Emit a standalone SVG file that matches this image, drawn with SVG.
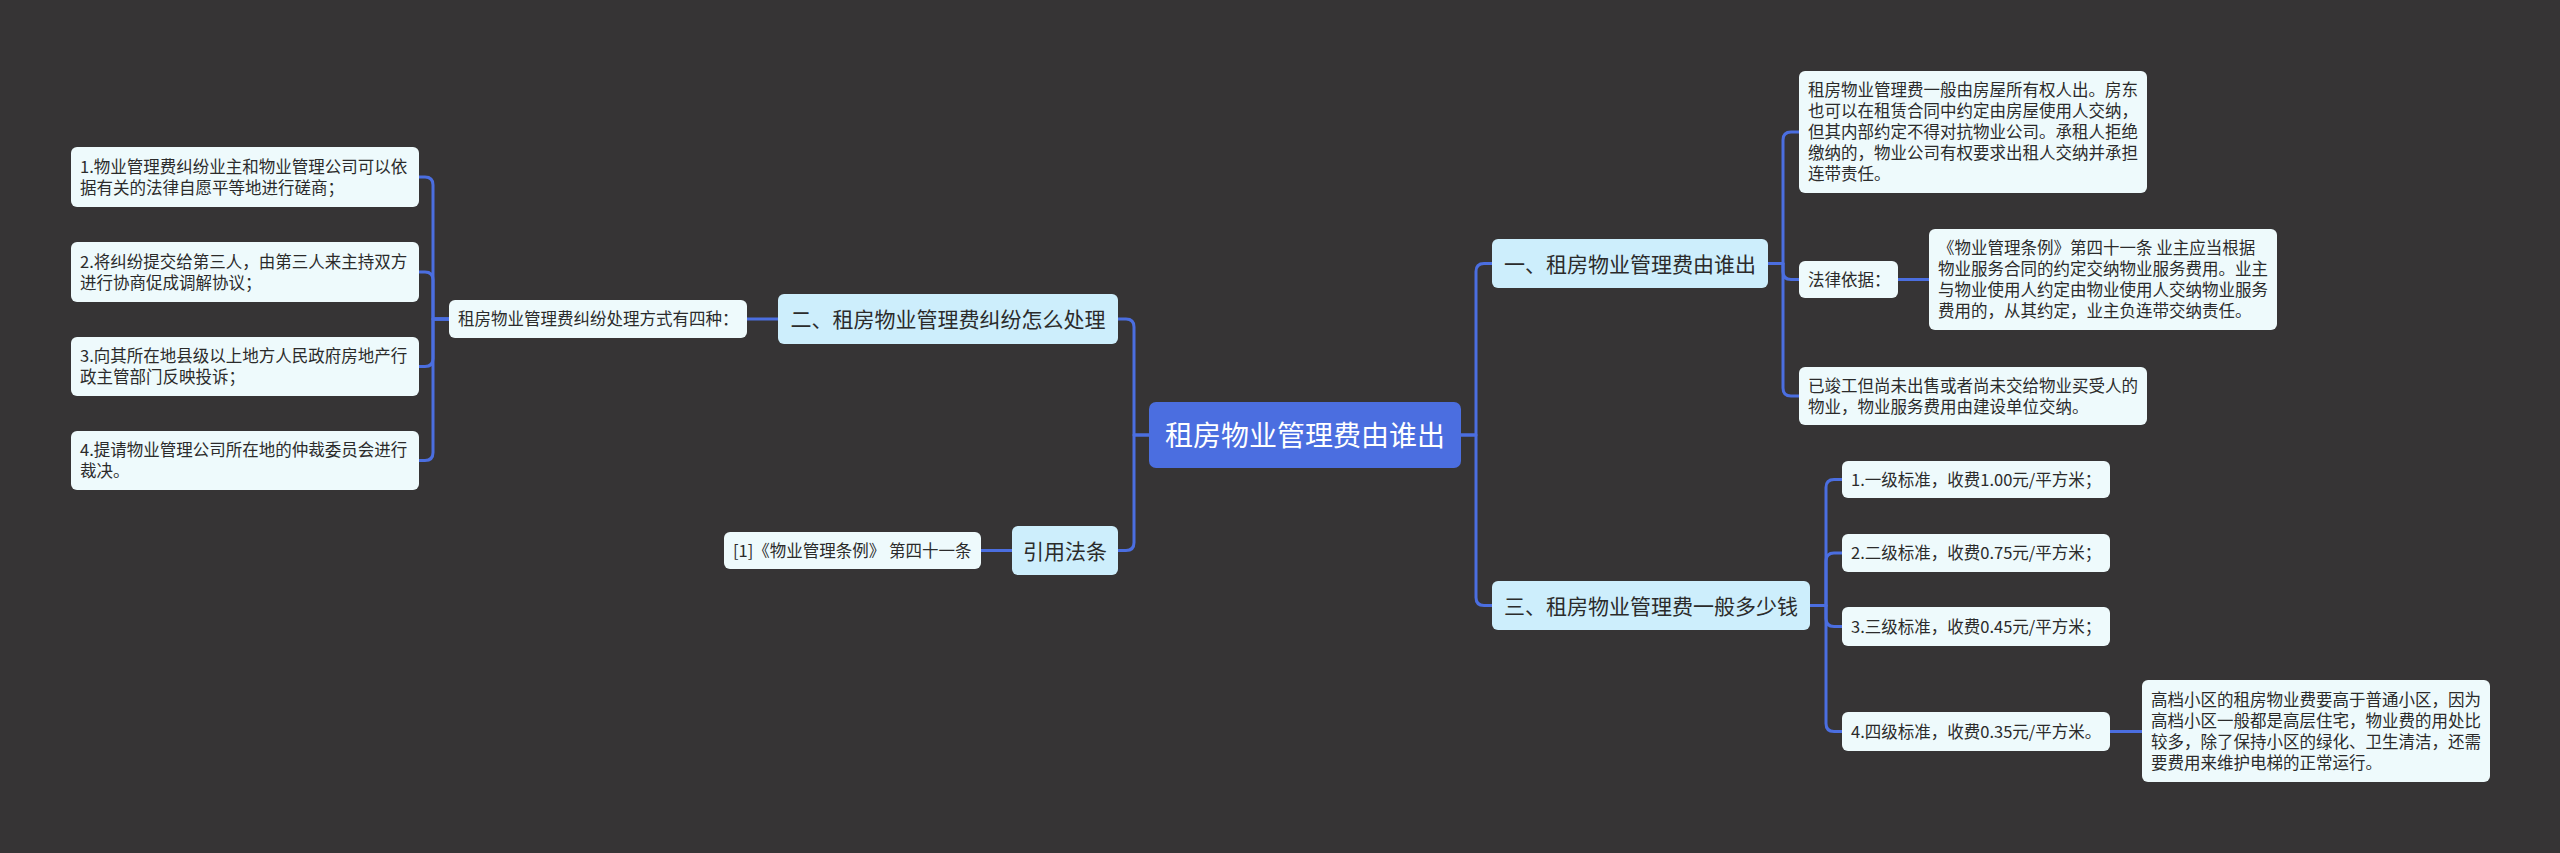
<svg xmlns="http://www.w3.org/2000/svg" width="2560" height="853" viewBox="0 0 2560 853">
<style>
.bg{fill:#363435}
.root rect{fill:#4b6ee0}
.root text{fill:#ffffff;font-size:28px}
.l1 rect{fill:#cdeefc}
.l1 text{fill:#2b2b2b;font-size:21px}
.leaf rect{fill:#eefafc}
.leaf text{fill:#2b2b2b;font-size:16.5px}
text{font-family:"Microsoft YaHei","Noto Sans CJK SC","Noto Sans",sans-serif}
.conn path{fill:none;stroke:#4b6ee0;stroke-width:3;stroke-linejoin:round}
</style>
<rect class="bg" x="0" y="0" width="2560" height="853"/>
<g class="conn" id="connectors">
<path d="M1461,435 H1476 V271.5 Q1476,263.5 1484,263.5 H1492"/>
<path d="M1461,435 H1476 V597.5 Q1476,605.5 1484,605.5 H1492"/>
<path d="M1149,435 H1134 V327 Q1134,319 1126,319 H1118"/>
<path d="M1149,435 H1134 V542.5 Q1134,550.5 1126,550.5 H1118"/>
<path d="M1768,263.5 H1783 V140 Q1783,132 1791,132 H1799"/>
<path d="M1768,263.5 H1783 V271.5 Q1783,279.5 1791,279.5 H1799"/>
<path d="M1768,263.5 H1783 V388 Q1783,396 1791,396 H1799"/>
<path d="M1898,279.5 H1929"/>
<path d="M1810,605.5 H1826 V487.5 Q1826,479.5 1834,479.5 H1842"/>
<path d="M1810,605.5 H1826 V561 Q1826,553 1834,553 H1842"/>
<path d="M1810,605.5 H1826 V618.5 Q1826,626.5 1834,626.5 H1842"/>
<path d="M1810,605.5 H1826 V723.5 Q1826,731.5 1834,731.5 H1842"/>
<path d="M2110,731.5 H2142"/>
<path d="M778,319 H747"/>
<path d="M449,319 H433 V185 Q433,177 425,177 H419"/>
<path d="M449,319 H433 V280 Q433,272 425,272 H419"/>
<path d="M449,319 H433 V358.5 Q433,366.5 425,366.5 H419"/>
<path d="M449,319 H433 V452.5 Q433,460.5 425,460.5 H419"/>
<path d="M1012,550.5 H981"/>
</g>
<g class="root" id="root">
<rect x="1149" y="402" width="312" height="66" rx="7"/>
<text x="1305" y="445.5" text-anchor="middle">租房物业管理费由谁出</text>
</g>
<g class="l1" id="n1">
<rect x="1492" y="239" width="276" height="49" rx="6"/>
<text x="1630" y="271.5" text-anchor="middle">一、租房物业管理费由谁出</text>
</g>
<g class="l1" id="n3">
<rect x="1492" y="581" width="318" height="49" rx="6"/>
<text x="1651" y="613.5" text-anchor="middle">三、租房物业管理费一般多少钱</text>
</g>
<g class="l1" id="n2">
<rect x="778" y="294" width="340" height="50" rx="6"/>
<text x="948" y="327" text-anchor="middle">二、租房物业管理费纠纷怎么处理</text>
</g>
<g class="l1" id="n4">
<rect x="1012" y="526" width="106" height="49" rx="6"/>
<text x="1065" y="558.5" text-anchor="middle">引用法条</text>
</g>
<g class="leaf" id="n1a">
<rect x="1799" y="71" width="348" height="122" rx="6"/>
<text x="1808" y="96.3"><tspan x="1808">租房物业管理费一般由房屋所有权人出。房东</tspan><tspan x="1808" dy="21">也可以在租赁合同中约定由房屋使用人交纳，</tspan><tspan x="1808" dy="21">但其内部约定不得对抗物业公司。承租人拒绝</tspan><tspan x="1808" dy="21">缴纳的，物业公司有权要求出租人交纳并承担</tspan><tspan x="1808" dy="21">连带责任。</tspan></text>
</g>
<g class="leaf" id="n1b">
<rect x="1799" y="261" width="99" height="37" rx="6"/>
<text x="1808" y="285.8">法律依据：</text>
</g>
<g class="leaf" id="n1b1">
<rect x="1929" y="229" width="348" height="101" rx="6"/>
<text x="1938" y="254.3"><tspan x="1938">《物业管理条例》第四十一条 业主应当根据</tspan><tspan x="1938" dy="21">物业服务合同的约定交纳物业服务费用。业主</tspan><tspan x="1938" dy="21">与物业使用人约定由物业使用人交纳物业服务</tspan><tspan x="1938" dy="21">费用的，从其约定，业主负连带交纳责任。</tspan></text>
</g>
<g class="leaf" id="n1c">
<rect x="1799" y="367" width="348" height="58" rx="6"/>
<text x="1808" y="391.8"><tspan x="1808">已竣工但尚未出售或者尚未交给物业买受人的</tspan><tspan x="1808" dy="21">物业，物业服务费用由建设单位交纳。</tspan></text>
</g>
<g class="leaf" id="n3a">
<rect x="1842" y="461" width="268" height="37" rx="6"/>
<text x="1851" y="485.8">1.一级标准，收费1.00元/平方米；</text>
</g>
<g class="leaf" id="n3b">
<rect x="1842" y="534" width="268" height="38" rx="6"/>
<text x="1851" y="559.3">2.二级标准，收费0.75元/平方米；</text>
</g>
<g class="leaf" id="n3c">
<rect x="1842" y="607" width="268" height="39" rx="6"/>
<text x="1851" y="632.8">3.三级标准，收费0.45元/平方米；</text>
</g>
<g class="leaf" id="n3d">
<rect x="1842" y="712" width="268" height="39" rx="6"/>
<text x="1851" y="737.8">4.四级标准，收费0.35元/平方米。</text>
</g>
<g class="leaf" id="n3d1">
<rect x="2142" y="680" width="348" height="102" rx="6"/>
<text x="2151" y="705.8"><tspan x="2151">高档小区的租房物业费要高于普通小区，因为</tspan><tspan x="2151" dy="21">高档小区一般都是高层住宅，物业费的用处比</tspan><tspan x="2151" dy="21">较多，除了保持小区的绿化、卫生清洁，还需</tspan><tspan x="2151" dy="21">要费用来维护电梯的正常运行。</tspan></text>
</g>
<g class="leaf" id="n2a">
<rect x="449" y="300" width="298" height="38" rx="6"/>
<text x="458" y="325.3">租房物业管理费纠纷处理方式有四种：</text>
</g>
<g class="leaf" id="n2a1">
<rect x="71" y="147" width="348" height="60" rx="6"/>
<text x="80" y="172.8"><tspan x="80">1.物业管理费纠纷业主和物业管理公司可以依</tspan><tspan x="80" dy="21">据有关的法律自愿平等地进行磋商；</tspan></text>
</g>
<g class="leaf" id="n2a2">
<rect x="71" y="242" width="348" height="60" rx="6"/>
<text x="80" y="267.8"><tspan x="80">2.将纠纷提交给第三人，由第三人来主持双方</tspan><tspan x="80" dy="21">进行协商促成调解协议；</tspan></text>
</g>
<g class="leaf" id="n2a3">
<rect x="71" y="337" width="348" height="59" rx="6"/>
<text x="80" y="362.3"><tspan x="80">3.向其所在地县级以上地方人民政府房地产行</tspan><tspan x="80" dy="21">政主管部门反映投诉；</tspan></text>
</g>
<g class="leaf" id="n2a4">
<rect x="71" y="431" width="348" height="59" rx="6"/>
<text x="80" y="456.3"><tspan x="80">4.提请物业管理公司所在地的仲裁委员会进行</tspan><tspan x="80" dy="21">裁决。</tspan></text>
</g>
<g class="leaf" id="n4a">
<rect x="724" y="532" width="257" height="37" rx="6"/>
<text x="733" y="556.8">[1]《物业管理条例》 第四十一条</text>
</g>
</svg>
